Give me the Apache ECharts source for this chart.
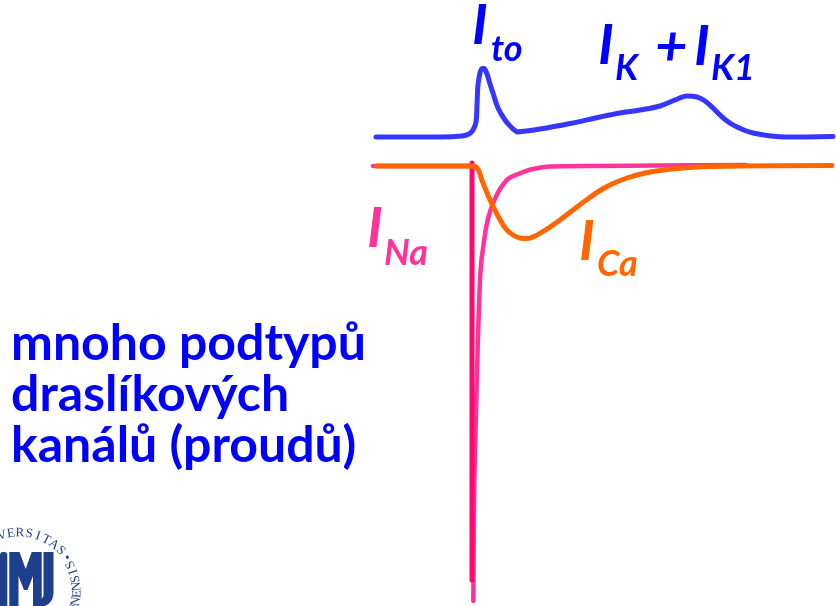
<!DOCTYPE html>
<html>
<head>
<meta charset="utf-8">
<title>Iontové proudy</title>
<script src="https://cdn.jsdelivr.net/npm/echarts@6/dist/echarts.min.js"></script>
<style>
  html, body { margin: 0; padding: 0; background: #fff; }
  #chart { width: 836px; height: 606px; }
</style>
</head>
<body>
<div id="chart"></div>
<script>
// krivky, [x, y] v pixelech platna
var iToCurve = [[376, 137], [440, 137], [462, 136], [469, 134], [473, 130], [476, 122], [477, 105], [478, 85],
    [480, 73], [482, 68.5], [484, 68.5], [487, 74], [490, 84], [493, 93], [498, 108], [505, 120], [511, 127], [515, 130.5]]
var iKCurve = [[517, 132], [540, 129], [570, 123.5], [600, 117], [620, 113], [640, 110], [660, 106], [675, 100],
    [687, 96], [697, 97], [705, 101], [713, 108], [720, 115], [727, 121], [735, 126], [753, 133], [787, 137], [833, 136.5]]
var iNaRest = [[373, 166], [470, 166]]
var iNaDrop = [[472, 163], [472, 580]]
var iNaRecovery = [[473.3, 601], [473.7, 547], [474.3, 480], [476, 413], [477.7, 347], [480, 280], [481.5, 260],
    [483.5, 245], [486, 228], [489, 215], [494, 201], [500, 189], [508, 179], [518, 174], [533, 169], [550, 166.5],
    [600, 166], [746, 165]]
var iCaCurve = [[377, 166], [430, 166], [468, 166], [476, 167], [483, 183], [490, 200], [498, 216], [506, 229],
    [513, 235], [520, 238], [527, 238.5], [533, 237], [547, 229], [560, 220], [573, 210], [587, 199.5], [600, 190.5],
    [613, 183.5], [627, 178], [643, 173.5], [660, 170.5], [693, 167.3], [740, 166], [832, 165.5]]

var noteLines = ['mnoho podtypů', 'draslíkových', 'kanálů (proudů)']
var sealTop = 'UNIVERSITAS'
var sealBottom = 'BRUNENSIS'

var FONT = 'Lato, "Open Sans", sans-serif'
var MID = 0.38 // posun stredu radku nad uctari (baseline)

function txt (s, x, base, size, color, italic) {
    return {
        type: 'text', x: x, y: base - MID * size, z: 10,
        style: {
            text: s, fill: color, verticalAlign: 'middle', align: 'left',
            font: (italic ? 'italic ' : '') + 'bold ' + size + 'px ' + FONT
        }
    }
}

var graphics = []
// popisky proudu
graphics.push(txt('I', 472, 47, 56, '#0000ff', true))
graphics.push(txt('to', 491, 63, 36, '#0000ff', true))
graphics.push(txt('I', 598, 67, 56, '#0000ff', true))
graphics.push(txt('K', 615, 82, 36, '#0000ff', true))
graphics.push(txt('+', 655, 68, 56, '#0000ff', true))
graphics.push(txt('I', 694, 68, 56, '#0000ff', true))
graphics.push(txt('K1', 711, 82, 36, '#0000ff', true))
graphics.push(txt('I', 367, 250, 56, '#ff3399', true))
graphics.push(txt('Na', 384, 267, 36, '#ff3399', true))
graphics.push(txt('I', 579, 263, 56, '#ff6600', true))
graphics.push(txt('Ca', 597, 278, 36, '#ff6600', true))

var noteBase = [363, 414, 465]
noteLines.forEach(function (line, i) {
    graphics.push(txt(line, 11, noteBase[i], 50, '#0000ff', false))
})

// logo MU v rohu
var navy = '#1e3f8c'
graphics.push({type: 'rect', shape: {x: 0, y: 552, width: 7.3, height: 60, r: [3, 3, 0, 0]}, style: {fill: navy}})
graphics.push({
    type: 'polygon',
    shape: {points: [[9.3, 606], [9.3, 552], [19.5, 552], [25.7, 569], [31.7, 552], [41.7, 552], [41.7, 606],
        [33, 606], [33, 576], [27.5, 590], [24, 590], [18.5, 576], [18.5, 606]]},
    style: {fill: navy}
})
graphics.push({
    type: 'polygon',
    shape: {points: [[43.5, 552], [53.5, 552], [53.5, 594], [52, 600], [48.5, 604], [43, 607], [41, 607],
        [41, 600], [43.5, 596]]},
    style: {fill: navy}
})
var cx = 19, cy = 591, r = 58
function sealChar (ch, deg, outward) {
    var a = deg * Math.PI / 180
    graphics.push({
        type: 'text', x: cx + r * Math.sin(a), y: cy - r * Math.cos(a),
        rotation: outward ? -a : Math.PI - a,
        style: {text: ch, fill: navy, align: 'center', verticalAlign: 'middle', font: '13px "Liberation Serif", serif'}
    })
}
for (var i = 0; i < sealTop.length; i++) sealChar(sealTop[i], -44 + 9 * i, true)
sealChar('•', 55, true)
for (var j = 0; j < sealBottom.length; j++) sealChar(sealBottom[sealBottom.length - 1 - j], 63 + 7.5 * j, false)

function curve (name, data, color, width, smooth) {
    return {
        name: name, type: 'line', data: data, symbol: 'none', silent: true,
        smooth: smooth,
        lineStyle: {color: color, width: width, cap: 'round', join: 'round'}
    }
}

var chart = echarts.init(document.getElementById('chart'))
chart.setOption({
    animation: false,
    grid: {left: 0, right: 0, top: 0, bottom: 0},
    xAxis: {type: 'value', min: 0, max: 836, show: false},
    yAxis: {type: 'value', min: 0, max: 606, inverse: true, show: false},
    series: [
        curve('Ito', iToCurve, '#3636ff', 5, 0.35),
        curve('IK + IK1', iKCurve, '#3636ff', 5, 0.35),
        curve('INa klid', iNaRest, '#ff3399', 4.5, false),
        curve('INa návrat', iNaRecovery, '#ff3399', 4.5, 0.35),
        curve('INa pokles', iNaDrop, '#ff0a6c', 5, false),
        curve('ICa', iCaCurve, '#ff6600', 5, 0.35)
    ],
    graphic: graphics
})
</script>
</body>
</html>
